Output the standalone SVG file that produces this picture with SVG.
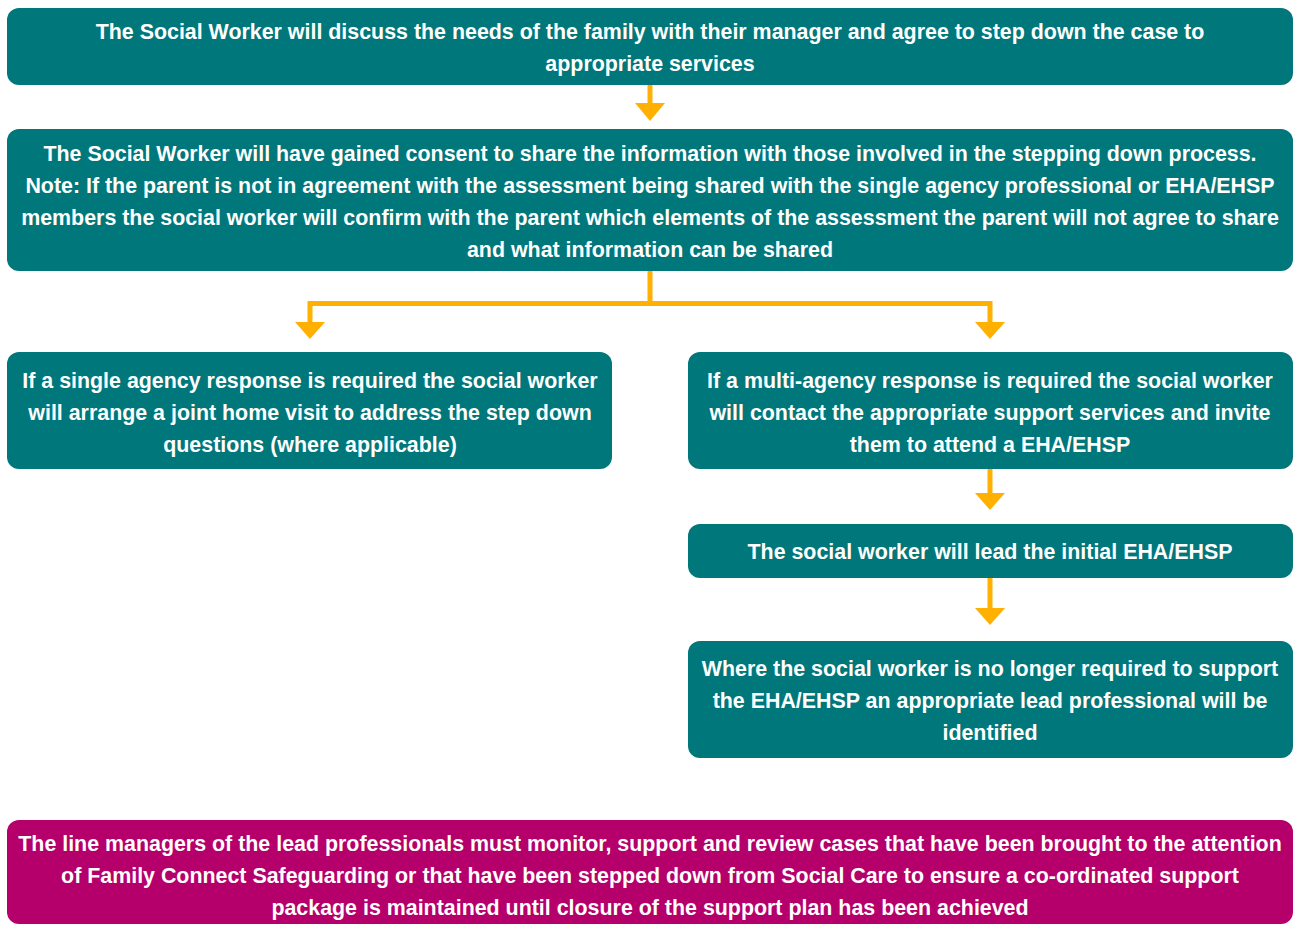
<svg xmlns="http://www.w3.org/2000/svg" width="1293" height="925" viewBox="0 0 1293 925">
<defs>
<style>
.box{fill:#00777a;}
.pink{fill:#b5006b;}
.t{font-family:"Liberation Sans",Arial,sans-serif;font-weight:bold;font-size:21.4px;fill:#ffffff;text-anchor:middle;}
.c{stroke:#ffb000;stroke-width:5;fill:none;}
.h{fill:#ffb000;}
</style>
</defs>
<rect width="1293" height="925" fill="#ffffff"/>
<g id="connectors">
<path class="c" d="M650 85V104"/>
<polygon class="h" points="635,103 665,103 650,121"/>
<path class="c" d="M650 271V303.5H310V324M650 303.5H990V324"/>
<polygon class="h" points="295,322 325,322 310,339"/>
<polygon class="h" points="975,322 1005,322 990,339"/>
<path class="c" d="M990 469V494"/>
<polygon class="h" points="975,493 1005,493 990,510"/>
<path class="c" d="M990 578V609"/>
<polygon class="h" points="975,608 1005,608 990,625"/>
</g>
<g id="n1">
<rect class="box" x="7" y="8" width="1286" height="77" rx="12"/>
<text class="t" x="650" y="38.5">The Social Worker will discuss the needs of the family with their manager and agree to step down the case to</text>
<text class="t" x="650" y="70.5">appropriate services</text>
</g>
<g id="n2">
<rect class="box" x="7" y="129" width="1286" height="142" rx="12"/>
<text class="t" x="650" y="160.5">The Social Worker will have gained consent to share the information with those involved in the stepping down process.</text>
<text class="t" x="650" y="193">Note: If the parent is not in agreement with the assessment being shared with the single agency professional or EHA/EHSP</text>
<text class="t" x="650" y="225">members the social worker will confirm with the parent which elements of the assessment the parent will not agree to share</text>
<text class="t" x="650" y="257">and what information can be shared</text>
</g>
<g id="n3">
<rect class="box" x="7" y="352" width="605" height="117" rx="12"/>
<text class="t" x="310" y="387.5">If a single agency response is required the social worker</text>
<text class="t" x="310" y="419.5">will arrange a joint home visit to address the step down</text>
<text class="t" x="310" y="451.5">questions (where applicable)</text>
</g>
<g id="n4">
<rect class="box" x="688" y="352" width="605" height="117" rx="12"/>
<text class="t" x="990" y="387.5">If a multi-agency response is required the social worker</text>
<text class="t" x="990" y="419.5">will contact the appropriate support services and invite</text>
<text class="t" x="990" y="451.5">them to attend a EHA/EHSP</text>
</g>
<g id="n5">
<rect class="box" x="688" y="524" width="605" height="54" rx="12"/>
<text class="t" x="990" y="559">The social worker will lead the initial EHA/EHSP</text>
</g>
<g id="n6">
<rect class="box" x="688" y="641" width="605" height="117" rx="12"/>
<text class="t" x="990" y="675.5">Where the social worker is no longer required to support</text>
<text class="t" x="990" y="707.5">the EHA/EHSP an appropriate lead professional will be</text>
<text class="t" x="990" y="739.5">identified</text>
</g>
<g id="n7">
<rect class="pink" x="7" y="820" width="1286" height="104" rx="12"/>
<text class="t" x="650" y="850.5">The line managers of the lead professionals must monitor, support and review cases that have been brought to the attention</text>
<text class="t" x="650" y="882.5">of Family Connect Safeguarding or that have been stepped down from Social Care to ensure a co-ordinated support</text>
<text class="t" x="650" y="914.5">package is maintained until closure of the support plan has been achieved</text>
</g>
</svg>
